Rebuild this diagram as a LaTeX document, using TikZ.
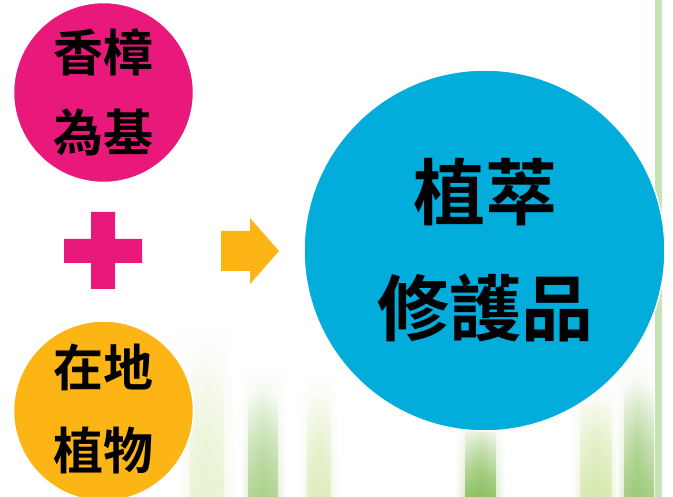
\documentclass[tikz,border=0pt]{standalone}
\usepackage{fontspec}
\usetikzlibrary{fadings}
\newfontfamily\cjk{Noto Sans CJK TC}[BoldFont={Noto Sans CJK TC Bold}]
\definecolor{cpink}{HTML}{E8197A}
\definecolor{corange}{HTML}{FDB515}
\definecolor{cblue}{HTML}{02ACDB}
\definecolor{cbar}{HTML}{C6E2B6}
\definecolor{leafA}{HTML}{B5D66A}
\definecolor{leafB}{HTML}{72B23C}
\tikzset{
  bubble/.style={circle, inner sep=0pt, draw=white, line width=1.5pt},
  smalltxt/.style={font=\cjk\bfseries\fontsize{50}{50}\selectfont, text=black, inner sep=0pt},
  bigtxt/.style={font=\cjk\bfseries\fontsize{72}{72}\selectfont, text=black, inner sep=0pt},
  stalk/.style={draw=none, path fading=north},
  stalkcore/.style={draw=none, path fading=north, fill opacity=0.85}
}
\begin{document}
\begin{tikzpicture}[x=1pt,y=-1pt]
\useasboundingbox (0,0) rectangle (673,497);
\fill[white] (0,0) rectangle (673,497);
% faint plant background (soft halo + core)
\shade[stalk, left color=white, right color=white, middle color=leafA!30] (176,330) rectangle (236,497);
\fill[stalkcore, leafA!30] (190,360) rectangle (224,497);
\shade[stalk, left color=white, right color=white, middle color=leafB!50] (240,370) rectangle (286,497);
\fill[stalkcore, leafB!60] (248,395) rectangle (278,497);
\shade[stalk, left color=white, right color=white, middle color=leafA!40] (299,375) rectangle (339,497);
\fill[stalkcore, leafA!45] (307,395) rectangle (331,497);
\shade[stalk, left color=white, right color=white, middle color=leafB!60] (455,410) rectangle (505,497);
\fill[stalkcore, leafB!85] (465,428) rectangle (496,497);
\shade[stalk, left color=white, right color=white, middle color=leafA!50] (570,380) rectangle (622,497);
\fill[stalkcore, leafA!55] (580,400) rectangle (612,497);
\shade[stalk, left color=white, right color=white, middle color=leafB!60] (616,365) rectangle (658,497);
\fill[stalkcore, leafB!70] (624,385) rectangle (654,497);
% right bar
\fill[cbar] (655,0) rectangle (662,497);
% circles
\node[bubble, fill=cpink, minimum size=180pt] (base) at (103.5,92.5) {};
\node[bubble, fill=corange, minimum size=180pt] (local) at (103.5,411) {};
\node[bubble, fill=cblue, minimum size=361pt] (prod) at (484.5,250.5) {};
% texts
\node[smalltxt] (t1) at (103.5,52) {香樟};
\node[smalltxt] (t2) at (103.5,133) {為基};
\node[smalltxt] (t3) at (103.5,367) {在地};
\node[smalltxt] (t4) at (103.5,450) {植物};
\node[bigtxt] (t5) at (485,192) {植萃};
\node[bigtxt] (t6) at (485,308) {修護品};
% plus
\fill[cpink] (91,212) -- (115,212) -- (115,239) -- (142,239) -- (142,263) -- (115,263)
  -- (115,289) -- (91,289) -- (91,263) -- (64,263) -- (64,239) -- (91,239) -- cycle;
% arrow
\fill[corange] (221,231) -- (250,231) -- (250,218) -- (279,251) -- (250,284) -- (250,271)
  -- (221,271) -- cycle;
\end{tikzpicture}
\end{document}
